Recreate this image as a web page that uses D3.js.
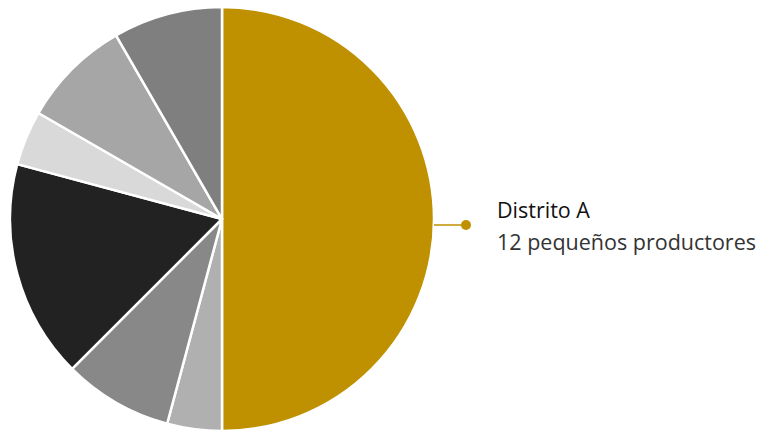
<!DOCTYPE html>
<html>
<head>
<meta charset="utf-8">
<script src="https://cdn.jsdelivr.net/npm/d3@7"></script>
<style>
  body { margin: 0; background: #fff; }
  svg { display: block; }
</style>
</head>
<body>
<svg id="chart" width="761" height="431"></svg>
<script>
// slices clockwise from 12 o'clock
const districts = ["Distrito A", "Distrito B", "Distrito C", "Distrito D", "Distrito E", "Distrito F", "Distrito G"];
const producers = [12, 1, 2, 4, 1, 2, 2];
const sliceColors = ["#bf9000", "#b0b0b0", "#888888", "#222222", "#d9d9d9", "#a6a6a6", "#7f7f7f"];
const labelTitle = "Distrito A";
const labelText = "12 pequeños productores";

const width = 761, height = 431;
const cx = 222, cy = 219, radius = 212;

const svg = d3.select("#chart");
const g = svg.append("g").attr("transform", `translate(${cx},${cy})`);

const pie = d3.pie().sort(null).value(d => d)(producers);
const arc = d3.arc().innerRadius(0).outerRadius(radius);

g.selectAll("path")
  .data(pie)
  .join("path")
  .attr("d", arc)
  .attr("fill", (d, i) => sliceColors[i])
  .attr("stroke", "#fff")
  .attr("stroke-width", 2.5)
  .attr("stroke-linejoin", "round");

// leader for the first slice
const first = pie[0];
const mid = (first.startAngle + first.endAngle) / 2;
const x0 = Math.sin(mid) * radius, y0 = -Math.cos(mid) * radius + 6;
const leaderLen = 32;

g.append("line")
  .attr("x1", x0).attr("y1", y0)
  .attr("x2", x0 + leaderLen).attr("y2", y0)
  .attr("stroke", sliceColors[0])
  .attr("stroke-width", 1.5);

g.append("circle")
  .attr("cx", x0 + leaderLen).attr("cy", y0)
  .attr("r", 5)
  .attr("fill", sliceColors[0]);

const label = svg.append("text")
  .attr("font-family", "'Open Sans', sans-serif")
  .attr("font-size", 21.5);

label.append("tspan")
  .attr("x", 497).attr("y", 218)
  .attr("fill", "#111")
  .text(labelTitle);

label.append("tspan")
  .attr("x", 497).attr("y", 250)
  .attr("fill", "#333")
  .text(labelText);
</script>
</body>
</html>
